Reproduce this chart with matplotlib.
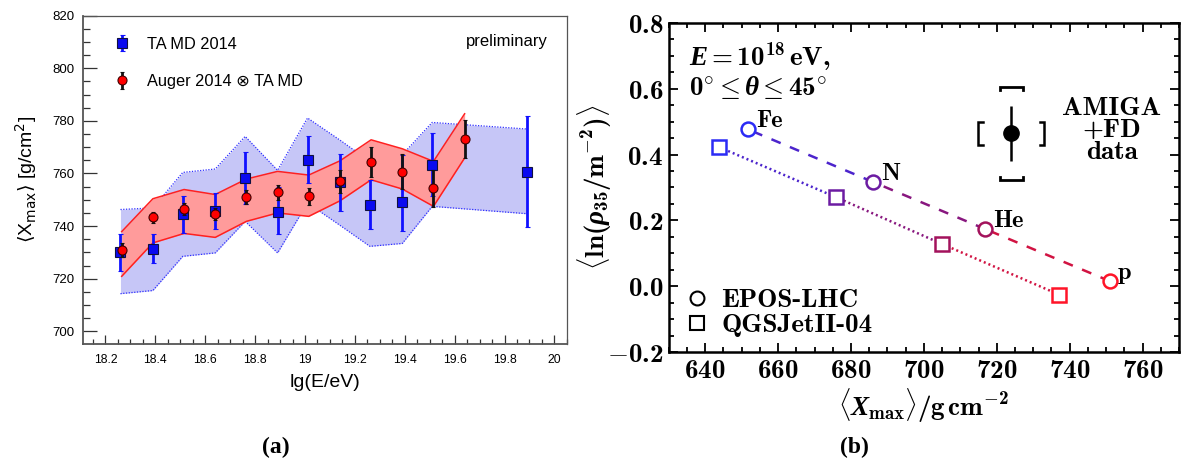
import matplotlib
matplotlib.use("Agg")
import matplotlib.pyplot as plt
from matplotlib.lines import Line2D
from matplotlib.ticker import MultipleLocator, FuncFormatter

# ---------------- panel (a): <Xmax> vs lg(E/eV)
ta_lgE = [18.26, 18.39, 18.51, 18.64, 18.76, 18.89, 19.01, 19.14, 19.26, 19.39, 19.51, 19.89]
ta_xmax = [730.1, 731.3, 744.6, 745.6, 758.3, 745.4, 765.2, 756.6, 747.9, 749.2, 763.3, 760.7]
ta_err_lo = [7.0, 5.4, 7.2, 6.7, 9.9, 8.6, 8.8, 11.0, 9.2, 11.2, 11.7, 21.2]
ta_err_hi = [6.9, 5.5, 6.7, 7.0, 9.7, 9.5, 9.1, 10.8, 9.7, 17.7, 12.1, 21.2]
ta_band_hi = [746.3, 746.9, 760.4, 761.7, 774.1, 761.2, 781.1, 772.7, 764.6, 767.1, 779.4, 776.9]
ta_band_lo = [714.3, 715.5, 728.5, 729.8, 741.8, 729.8, 748.8, 740.3, 732.3, 733.4, 747.5, 744.7]

aug_lgE = [18.265, 18.39, 18.515, 18.64, 18.765, 18.89, 19.015, 19.14, 19.265, 19.39, 19.515, 19.64]
aug_xmax = [730.8, 743.3, 746.6, 744.6, 751.2, 752.8, 751.3, 757.0, 764.5, 760.7, 754.3, 773.1]
aug_err = [2.7, 2.1, 2.2, 2.2, 2.7, 2.8, 3.2, 4.3, 5.7, 6.6, 7.0, 7.1]
aug_band_hi = [737.9, 750.4, 753.9, 752.0, 757.9, 760.8, 759.4, 764.8, 772.8, 769.4, 764.6, 782.7]
aug_band_lo = [720.9, 733.6, 737.2, 735.7, 741.8, 745.0, 743.7, 749.6, 757.6, 754.1, 747.5, 765.9]

# ---------------- panel (b): <ln rho35> vs <Xmax>
primaries = ["p", "He", "N", "Fe"]
prim_colors = ["#ff1428", "#a3125c", "#6c1ca2", "#2b2bf5"]
epos_xmax = [751.0, 716.8, 686.0, 651.8]
epos_lnrho = [0.016, 0.174, 0.317, 0.476]
qgs_xmax = [737.1, 704.9, 675.8, 643.7]
qgs_lnrho = [-0.025, 0.129, 0.271, 0.423]

amiga_xmax = 724.0
amiga_lnrho = 0.464
amiga_stat = 0.083
amiga_sys_y = 0.142
amiga_sys_x = 9.1

plt.rcParams["mathtext.fontset"] = "custom"
plt.rcParams["mathtext.rm"] = "cmb10"
plt.rcParams["mathtext.bf"] = "cmb10"
plt.rcParams["mathtext.it"] = "Liberation Serif:italic:bold"
plt.rcParams["mathtext.fallback"] = "cm"

fig = plt.figure(figsize=(11.83, 4.61), dpi=100)

# ===================== (a)
ax = fig.add_axes([0.0702, 0.254, 0.409, 0.712])
sans = ["Liberation Sans", "DejaVu Sans"]

ax.fill_between(ta_lgE, ta_band_lo, ta_band_hi, color="#c6c6f7", lw=0, zorder=1)
ax.plot(ta_lgE, ta_band_hi, color="#3030ff", lw=0.9, ls=(0, (1, 1.2)), zorder=1.5)
ax.plot(ta_lgE, ta_band_lo, color="#3030ff", lw=0.9, ls=(0, (1, 1.2)), zorder=1.5)
ax.fill_between(aug_lgE, aug_band_lo, aug_band_hi, color="#ff9b9b", lw=0, zorder=2)
ax.plot(aug_lgE, aug_band_hi, color="#ff2020", lw=1.1, zorder=2.5)
ax.plot(aug_lgE, aug_band_lo, color="#ff2020", lw=1.1, zorder=2.5)

h_ta = ax.errorbar(ta_lgE, ta_xmax, yerr=[ta_err_lo, ta_err_hi], fmt="s", color="#1010ff",
                   mfc="#0a0af0", mec="#101040", ms=6.5, mew=0.8, elinewidth=2.0,
                   capsize=1.8, capthick=1.2, zorder=3, label="TA MD 2014")
h_au = ax.errorbar(aug_lgE, aug_xmax, yerr=aug_err, fmt="o", color="#ff0000",
                   ecolor="#111111", mfc="#ff0000", mec="#400000", ms=6.5, mew=0.8,
                   elinewidth=2.0, capsize=1.5, capthick=1.2, zorder=4,
                   label="Auger 2014 \u2297 TA MD")

ax.set_xlim(18.11, 20.05)
ax.set_ylim(695.2, 820)
ax.xaxis.set_major_locator(MultipleLocator(0.2))
ax.xaxis.set_minor_locator(MultipleLocator(0.05))
ax.yaxis.set_major_locator(MultipleLocator(20))
ax.yaxis.set_minor_locator(MultipleLocator(5))
ax.xaxis.set_major_formatter(FuncFormatter(lambda v, p: "%g" % round(v, 1)))
ax.tick_params(which="both", direction="in", top=False, right=False, colors="#333333",
               labelcolor="black")
ax.tick_params(axis="y", which="major", length=10, width=0.9, pad=6, labelsize=9.5)
ax.tick_params(axis="y", which="minor", length=5, width=0.9)
ax.tick_params(axis="x", which="major", length=6.5, width=0.9, pad=7, labelsize=8.7)
ax.tick_params(axis="x", which="minor", length=3.5, width=0.9)
for lab in ax.get_xticklabels() + ax.get_yticklabels():
    lab.set_fontfamily(sans)
for s in ax.spines.values():
    s.set_color("#555555")
    s.set_linewidth(0.9)
ax.spines["left"].set_linewidth(1.3)
ax.spines["bottom"].set_linewidth(1.3)

ax.set_xlabel("lg(E/eV)", fontsize=14, fontfamily=sans, labelpad=6)
ylab = ax.set_ylabel(r"$\langle$X$_{\rm max}\rangle$ [g/cm$^{2}$]", fontsize=14,
                     fontfamily=sans, labelpad=10)
ylab.set_math_fontfamily("dejavusans")
ax.text(0.961, 0.92, "preliminary", transform=ax.transAxes, ha="right", va="center",
        fontsize=12, fontfamily=sans)
leg = ax.legend(handles=[h_ta, h_au], loc="upper left", frameon=False,
                prop={"family": sans, "size": 11.8}, labelspacing=1.35,
                handlelength=1.0, handletextpad=1.0, borderaxespad=0.9,
                bbox_to_anchor=(0.02, 1.0))

fig.text(0.233, 0.006, "(a)", fontsize=17, fontweight="bold", fontfamily="Liberation Serif",
         ha="center", va="bottom")

# ===================== (b)
bx = fig.add_axes([0.5653, 0.2358, 0.4313, 0.715])
big = 19.5

for i in range(len(primaries) - 1):
    seg_col = matplotlib.colors.to_hex(
        [(a + b) / 2 for a, b in zip(matplotlib.colors.to_rgb(prim_colors[i]),
                                     matplotlib.colors.to_rgb(prim_colors[i + 1]))])
    bx.plot(epos_xmax[i:i + 2], epos_lnrho[i:i + 2], ls=(0, (4, 4)), lw=1.8,
            color=seg_col, zorder=2)
    bx.plot(qgs_xmax[i:i + 2], qgs_lnrho[i:i + 2], ls=(0, (0.8, 1.2)), lw=1.8,
            color=seg_col, zorder=2)

for i, name in enumerate(primaries):
    bx.plot(epos_xmax[i], epos_lnrho[i], "o", ms=10, mfc="white", mec=prim_colors[i],
            mew=1.8, zorder=3)
    bx.plot(qgs_xmax[i], qgs_lnrho[i], "s", ms=10, mfc="white", mec=prim_colors[i],
            mew=1.8, zorder=3)
    bx.annotate(name, (epos_xmax[i], epos_lnrho[i]), xytext=(6, -2),
                textcoords="offset points", ha="left", va="bottom", fontsize=17.5,
                fontfamily="cmb10")

# AMIGA + FD data point with stat and syst. brackets
bx.errorbar([amiga_xmax], [amiga_lnrho], yerr=[amiga_stat], fmt="o", color="black",
            ms=11, elinewidth=1.8, capsize=0, zorder=4)
cap_w = 3.1
cap_h = 0.009
brk_h = 0.035
brk_w = 1.2
for sgn in (1, -1):
    yc = amiga_lnrho + sgn * amiga_sys_y
    bx.plot([amiga_xmax - cap_w, amiga_xmax - cap_w, amiga_xmax + cap_w, amiga_xmax + cap_w],
            [yc - sgn * cap_h, yc, yc, yc - sgn * cap_h], color="black", lw=2.0,
            solid_joinstyle="miter")
    xc = amiga_xmax + sgn * amiga_sys_x
    bx.plot([xc - sgn * brk_w, xc, xc, xc - sgn * brk_w],
            [amiga_lnrho - brk_h, amiga_lnrho - brk_h, amiga_lnrho + brk_h, amiga_lnrho + brk_h],
            color="black", lw=1.8, solid_joinstyle="miter")
bx.text(0.868, 0.775, "AMIGA\n+FD\ndata", transform=bx.transAxes, ha="center", va="top",
        multialignment="center", fontsize=big, fontfamily="cmb10", linespacing=0.95)

bx.text(0.04, 0.945, r"$E = \mathrm{10^{18}\,eV,}$", transform=bx.transAxes, ha="left",
        va="top", fontsize=big)
bx.text(0.04, 0.845, r"$\mathrm{0^{\circ}} \leq \theta \leq \mathrm{45^{\circ}}$",
        transform=bx.transAxes, ha="left", va="top", fontsize=big)

leg_handles = [Line2D([], [], ls="none", marker="o", ms=10, mfc="white", mec="black", mew=1.5),
               Line2D([], [], ls="none", marker="s", ms=10, mfc="white", mec="black", mew=1.5)]
bx.legend(leg_handles, ["EPOS-LHC", "QGSJetII-04"], loc="lower left", frameon=False,
          prop={"family": "cmb10", "size": big}, labelspacing=0.05, handlelength=1.0,
          handletextpad=0.4, borderaxespad=0.15, bbox_to_anchor=(0.0, 0.0))

bx.set_xlim(630, 770)
bx.set_ylim(-0.2, 0.8)
bx.xaxis.set_major_locator(MultipleLocator(20))
bx.xaxis.set_minor_locator(MultipleLocator(5))
bx.yaxis.set_major_locator(MultipleLocator(0.2))
bx.yaxis.set_minor_locator(MultipleLocator(0.05))
bx.xaxis.set_major_formatter(FuncFormatter(lambda v, p: "$%d$" % round(v)))
bx.yaxis.set_major_formatter(FuncFormatter(lambda v, p: "$%.1f$" % (0.0 if abs(v) < 1e-9 else v)))
bx.tick_params(which="both", direction="in", top=True, right=True, labelsize=big, width=1.3)
bx.tick_params(which="major", length=6.5, pad=4)
bx.tick_params(which="minor", length=3.5)
for s in bx.spines.values():
    s.set_linewidth(1.8)

bx.set_xlabel(r"$\langle X_{\mathrm{max}}\rangle/\mathrm{g\,cm^{-2}}$", fontsize=big,
              labelpad=2)
bx.set_ylabel(r"$\langle\mathrm{ln}(\rho_{\mathrm{35}}/\mathrm{m^{-2}})\rangle$", fontsize=big,
              labelpad=-5)

fig.text(0.7225, 0.006, "(b)", fontsize=17, fontweight="bold", fontfamily="Liberation Serif",
         ha="center", va="bottom")

fig.savefig("out.png", dpi=100)
